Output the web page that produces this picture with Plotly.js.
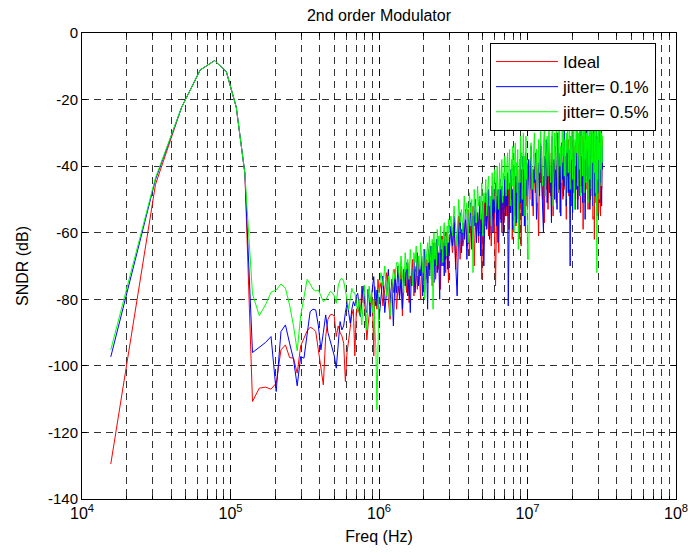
<!DOCTYPE html>
<html><head><meta charset="utf-8">
<script src="https://cdn.plot.ly/plotly-3.0.1.min.js"></script>
<style>html,body{margin:0;padding:0;background:#fff}#chart{width:688px;height:556px}</style>
</head><body><div id="chart"></div>
<script>
// FFT bin spacing (Hz) and the bins that are plotted
const binWidthHz = 15625;
const bins = [1,2,3,4,5,6,7,8,9,10,11,12,13,14,15,16,17,18,19,20,21,22,23,24,25,26,27,28,29,30,31,32,33,34,35,36,37,38,39,40,41,42,43,44,45,46,47,48,49,50,51,52,53,54,55,56,57,58,59,60,61,62,63,64,
66,68,70,72,74,76,78,80,82,84,86,88,90,92,94,96,98,100,102,104,106,108,110,112,114,116,118,120,122,124,126,128,130,132,134,136,138,140,142,144,146,148,150,152,154,156,158,160,162,164,166,168,170,172,174,176,178,180,182,184,186,188,190,
195,200,205,210,215,220,225,230,235,240,245,250,255,260,265,270,275,280,285,290,295,300,305,310,315,320,325,330,335,340,345,350,355,360,365,370,375,380,385,390,395,400,405,410,415,420,425,430,435,440,445,450,455,460,465,470,475,480,485,490,495,500,505,510,515,520,525,530,535,540,545,550,555,560,565,570,575,580,585,590,595,600,605,610,615,620,625,630,635,640,
652,664,676,688,700,712,724,736,748,760,772,784,796,808,820,832,844,856,868,880,892,904,916,928,940,952,964,976,988,1000,1012,1024,1036,1048,1060,1072,1084,1096,1108,1120,1132,1144,1156,1168,1180,1192,1204,1216,1228,1240,1252,1264,1276,1288,1300,1312,1324,1336,1348,1360,1372,1384,1396,1408,1420,1432,1444,1456,1468,1480,1492,1504,1516,1528,1540,1552,1564,1576,1588,1600,1612,1624,1636,1648,1660,1672,1684,1696,1708,1720,1732,1744,1756,1768,1780,1792,1804,1816,1828,1840,1852,1864,1876,1888,1900,1912,1924,1936,1948,1960,1972,1984,1996,2008,2020,2032,2044];

const idealDb = [-129.5,-45.5,-22.3,-11.1,-8.3,-11.6,-22.3,-42.2,-110.7,-106.7,-106.4,-107.0,-105.2,-95.2,-93.7,-97.5,-97.7,-102.2,-94,-91.7,-89.5,-88.4,-88.8,-89.7,-95.2,-100,-105.7,-91.2,-86,-84.7,-84.5,-85.2,-91.2,-88,-90,-91,-93.2,-104.7,-96,-92.2,-88,-84.7,-83,-97,-84,-82.2,-84,-85.2,-76,-81,-79.2,-86,-92.2,-88,-84,-80,-78.2,-82,-97,-76.2,-80,-83,-74,-78,
-75,-82,-77,-72,-80,-86,-74,-78,-71,-83,-76,-79,-70,-85,-74,-72,-78,-69,-81,-73,-76,-68,-79,-72,-70,-77,-67,-74,-80,-69,-72,-66,-78,-71,-68,-75,-65,-73,-69,-64,-76,-67,-70,-63,-74,-66,-62,-71,-68,-64,-77,-63,-66,-61,-70,-65,-62,-72,-60,-67,-64,-75,-61,
-60,-66,-57,-71,-62,-55,-68,-59,-64,-61,-56,-64,-53,-67,-58,-62,-52,-70,-57,-60,-54,-63,-51,-58,-74,-53,-60,-50,-58,-56,-52,-61,-49,-57,-64,-51,-55,-48,-62,-76,-58,-47,-54,-66,-50,-56,-46,-60,-52,-49,-57,-45,-53,-55,-48,-55,-44,-59,-50,-47,-54,-43,-62,-49,-46,-55,-42,-51,-58,-45,-48,-41,-56,-47,-44,-53,-40,-64,-46,-43,-50,-39,-55,-45,-42,-60,-38,-47,-52,-41,
-42,-50,-37,-46,-55,-40,-48,-35,-52,-61,-39,-45,-34,-50,-43,-57,-38,-47,-33,-53,-41,-36,-49,-44,-32,-55,-39,-46,-35,-51,-42,-31,-48,-37,-54,-40,-33,-45,-50,-36,-30,-47,-41,-56,-35,-43,-32,-49,-38,-44,-31,-52,-36,-42,-29,-48,-40,-34,-53,-37,-45,-30,-50,-39,-33,-46,-29,-54,-41,-35,-48,-31,-59,-38,-44,-30,-51,-36,-42,-29,-47,-34,-53,-39,-31,-45,-37,-50,-28,-43,-35,-49,-32,-56,-40,-30,-62,-38,-46,-33,-51,-29,-42,-36,-48,-31,-54,-39,-28,-45,-34,-55,-41,-30,-47,-37,-32];

const jitter01Db = [-97.3,-44,-22.3,-11.1,-8.3,-11.6,-22.3,-42.2,-96,-94.4,-93,-91.2,-107.7,-89.7,-87.7,-93.2,-98,-106,-97.2,-97.7,-90,-83.7,-83,-83.2,-88,-95.2,-90,-84.7,-90,-92.2,-95,-97,-100.7,-92,-86.7,-89.2,-88,-84,-81.2,-84,-87.2,-83,-80.7,-82,-79,-78.2,-81,-85.2,-80,-76,-79,-83,-84,-77,-80,-85.2,-79,-76,-73.2,-80,-82,-77.2,-79,-86.2,
-79,-73,-84,-76,-71,-81,-75,-88,-73,-78,-70,-80,-74,-83,-71,-76,-69,-79,-73,-84,-70,-75,-68,-78,-72,-66,-76,-70,-73,-67,-79,-69,-65,-74,-70,-83,-66,-71,-64,-73,-68,-63,-75,-67,-70,-62,-72,-66,-69,-80,-64,-61,-70,-66,-63,-73,-60,-68,-65,-62,-71,-63,-66,
-58,-64,-55,-69,-79,-60,-54,-66,-57,-62,-53,-68,-56,-60,-51,-65,-55,-58,-50,-63,-54,-61,-49,-67,-55,-52,-70,-57,-48,-59,-53,-47,-62,-51,-56,-46,-60,-50,-54,-45,-58,-49,-63,-47,-53,-44,-57,-50,-46,-61,-48,-43,-55,-47,-52,-42,-82,-49,-45,-54,-41,-50,-47,-59,-44,-40,-52,-46,-43,-57,-39,-48,-45,-62,-42,-38,-51,-44,-41,-55,-37,-47,-43,-58,-40,-36,-49,-42,-39,-53,
-38,-47,-34,-52,-41,-45,-36,-56,-43,-39,-49,-33,-44,-54,-60,-37,-46,-32,-51,-40,-35,-48,-42,-57,-31,-45,-38,-50,-34,-43,-53,-30,-41,-47,-36,-55,-33,-44,-39,-49,-29,-46,-37,-52,-32,-42,-48,-35,-40,-70,-31,-45,-38,-54,-30,-43,-36,-50,-33,-47,-41,-29,-53,-37,-44,-32,-49,-39,-28,-46,-35,-51,-40,-30,-48,-34,-56,-38,-29,-43,-36,-50,-31,-45,-39,-27,-53,-41,-33,-47,-30,-44,-37,-52,-28,-42,-35,-49,-31,-46,-38,-27,-55,-40,-33,-48,-29,-43,-36,-51,-30,-45,-39,-28,-52,-34,-41];

const jitter05Db = [-95.2,-43.5,-22.3,-11.1,-8.3,-11.6,-22.3,-42.2,-78.4,-84.9,-81.7,-77.9,-77.2,-75.4,-76.7,-81.7,-88,-95.5,-85,-78.7,-74.0,-75.4,-77,-77.5,-77.2,-79,-80.7,-80.2,-79,-77.7,-78,-79,-81.2,-76,-74.2,-73.7,-74.5,-78,-80.2,-83,-79,-76.7,-78,-78,-81,-84,-80,-83,-87.7,-80,-75.7,-82,-89.2,-79,-76,-81,-78,-84,-80,-88,-95,-113.2,-85,-77.2,
-72,-76,-70,-79,-73,-85,-77,-71,-74,-69,-69,-75,-67,-72,-78,-66,-71,-68,-74,-65,-70,-76,-66,-69,-64,-73,-67,-71,-63,-68,-72,-65,-80,-70,-66,-63,-69,-61,-67,-74,-62,-83,-60,-68,-63,-70,-59,-64,-61,-66,-58,-65,-62,-69,-60,-57,-64,-61,-67,-58,-63,-56,-60,
-55,-61,-52,-58,-64,-50,-57,-53,-60,-49,-56,-51,-63,-48,-54,-50,-72,-47,-53,-57,-46,-52,-49,-56,-45,-61,-48,-51,-44,-55,-47,-43,-52,-49,-58,-42,-50,-46,-41,-54,-45,-40,-48,-53,-39,-47,-44,-38,-51,-42,-44,-37,-45,-49,-40,-36,-47,-43,-35,-52,-41,-38,-46,-34,-44,-60,-37,-33,-43,-39,-48,-35,-65,-42,-38,-45,-31,-40,-36,-50,-33,-30,-41,-37,-55,-34,-31,-44,-38,-68,
-68,-40,-33,-47,-37,-30,-44,-35,-51,-32,-42,-29,-38,-46,-34,-28,-49,-36,-31,-43,-27,-39,-45,-33,-29,-52,-37,-30,-41,-28,-35,-48,-31,-26,-40,-34,-45,-29,-37,-27,-43,-32,-50,-30,-36,-28,-42,-33,-26,-47,-31,-38,-29,-44,-35,-27,-53,-32,-40,-28,-36,-26,-46,-30,-34,-41,-28,-49,-31,-37,-27,-43,-33,-29,-48,-26,-38,-32,-45,-30,-35,-28,-51,-31,-40,-27,-44,-34,-29,-47,-33,-26,-39,-30,-55,-36,-28,-42,-31,-48,-27,-37,-72,-32,-44,-29,-38,-26,-50,-33,-41,-28,-35,-46,-30,-39,-31];

const seriesNames = ['Ideal', 'jitter= 0.1%', 'jitter= 0.5%'];
const seriesColors = ['#ff0000', '#0000ff', '#00ff00'];
const yTicks = [0, -20, -40, -60, -80, -100, -120, -140];
const xTickExps = [4, 5, 6, 7, 8];

[idealDb, jitter01Db, jitter05Db].forEach((s, i) => {
  if (s.length !== bins.length) console.error('length mismatch', seriesNames[i], s.length, bins.length);
});

const freqHz = bins.map(b => b * binWidthHz);
const font = 'Arial, "Liberation Sans", Helvetica, sans-serif';

const traces = [idealDb, jitter01Db, jitter05Db].map((s, i) => ({
  type: 'scatter', mode: 'lines', x: freqHz, y: s, name: seriesNames[i],
  legendgroup: 'g' + i,
  line: {color: seriesColors[i], width: 1}
}));

const gridDash = '7px,5px';
const gridColor = 'rgba(0,0,0,0.8)';
const layout = {
  width: 688, height: 556,
  margin: {l: 82, r: 12, t: 33, b: 57},
  paper_bgcolor: '#fff', plot_bgcolor: '#fff',
  font: {family: font, size: 15, color: '#000'},
  title: {text: '2nd order Modulator', font: {family: font, size: 16, color: '#000'}, x: 0.5, xref: 'paper', xanchor: 'center', y: 1 - 15/556, yanchor: 'middle'},
  showlegend: true,
  legend: {x: (490-82)/594, y: (499-43)/466, xanchor: 'left', yanchor: 'top', bgcolor: '#fff', bordercolor: '#000', borderwidth: 1, font: {family: font, size: 17, color: '#000'}, tracegroupgap: 0, itemwidth: 62},
  xaxis: {
    type: 'log', range: [4, 8],
    tickvals: xTickExps.map(e => Math.pow(10, e)),
    ticktext: xTickExps.map(e => '10<sup>' + e + '</sup>'),
    ticklabeloverflow: 'allow',
    showline: true, linecolor: '#000', linewidth: 1, mirror: 'ticks',
    ticks: 'inside', ticklen: 5, tickcolor: '#000',
    showgrid: true, gridcolor: gridColor, gridwidth: 1, griddash: gridDash,
    minor: {dtick: 'D1', showgrid: true, gridcolor: gridColor, gridwidth: 1, griddash: gridDash, ticks: 'inside', ticklen: 3, tickcolor: '#000'},
    zeroline: false, tickfont: {family: font, size: 16},
    title: {text: 'Freq (Hz)', font: {family: font, size: 16}, standoff: 9}
  },
  yaxis: {
    range: [-140, 0], tickvals: yTicks, ticktext: yTicks.map(String),
    showline: true, linecolor: '#000', linewidth: 1, mirror: 'ticks',
    ticks: 'inside', ticklen: 5, tickcolor: '#000',
    showgrid: true, gridcolor: gridColor, gridwidth: 1, griddash: gridDash,
    zeroline: false, tickfont: {family: font, size: 15},
    title: {text: 'SNDR (dB)', font: {family: font, size: 16}, standoff: 15}
  }
};

Plotly.newPlot('chart', traces, layout, {displayModeBar: false, staticPlot: true});
</script>
</body></html>
